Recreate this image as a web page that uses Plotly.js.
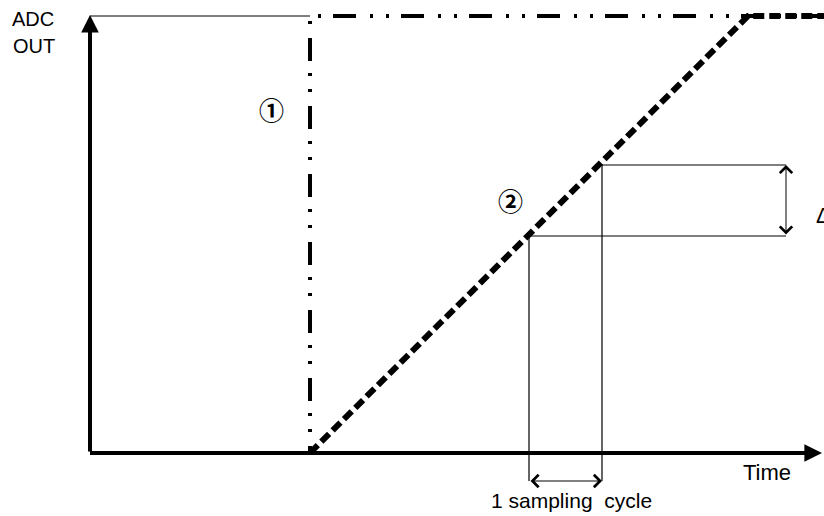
<!DOCTYPE html>
<html>
<head>
<meta charset="utf-8">
<script src="https://cdn.plot.ly/plotly-3.0.1.min.js"></script>
<style>html,body{margin:0;padding:0;background:#fff;}#chart{width:824px;height:516px;}</style>
</head>
<body>
<div id="chart"></div>
<script>
// ---- data (time units, ADC units) ----
var fullScale = 437;            // ADC full-scale level
var tEnd = 734;                 // right edge of time span
var tStep = 220;                // time of step / ramp start
var tRampEnd = 658;             // time ramp reaches full scale
// curve 1: step response
var stepT = [0, tStep, tStep, tEnd];
var stepV = [0, 0, fullScale, fullScale];
// curve 2: ramp response
var rampT = [tStep, tRampEnd, tEnd];
var rampV = [0, fullScale, fullScale];
// initial thin level line before step
var refT = [0, tStep];
var refV = [fullScale, fullScale];
// sampling instants and sampled levels
var sampleT = [439, 512];
var sampleV = [217, 288];
var deltaT = 696;               // position of the delta marker
var cycleV = -28;               // level of the sampling-cycle marker
var axisTipT = 732;
var axisTipV = 438;

// labels
var yLabel = ["ADC", "OUT"];
var xLabel = "Time";
var cycleLabel = "1 sampling  cycle";
var curveLabels = ["①", "②"];
var deltaLabel = "Δ";

var traces = [
  {x: refT, y: refV, mode: 'lines', line: {color: '#000', width: 1}, hoverinfo: 'skip'},
  {x: stepT, y: stepV, mode: 'lines', line: {color: '#000', width: 4, dash: '23px,14px,3px,13px,3px,12px'}, hoverinfo: 'skip'},
  {x: [sampleT[0], sampleT[0], deltaT], y: [cycleV, sampleV[0], sampleV[0]], mode: 'lines', line: {color: '#000', width: 1.2}, hoverinfo: 'skip'},
  {x: [sampleT[1], sampleT[1], deltaT], y: [cycleV, sampleV[1], sampleV[1]], mode: 'lines', line: {color: '#000', width: 1.2}, hoverinfo: 'skip'},
  {x: rampT, y: rampV, mode: 'lines', line: {color: '#000', width: 6, dash: '11px,5px'}, hoverinfo: 'skip'}
];

var sans = 'Liberation Sans, Arial, sans-serif';
var txtFont = {family: sans, size: 20, color: '#000'};
var annotations = [
  // axes with arrowheads
  {x: axisTipT, y: 0, ax: 0, ay: 0, xref: 'x', yref: 'y', axref: 'x', ayref: 'y', showarrow: true, arrowhead: 2, arrowsize: 0.88, arrowwidth: 4, arrowcolor: '#000', standoff: 0, text: ''},
  {x: 0, y: axisTipV, ax: 0, ay: 0, xref: 'x', yref: 'y', axref: 'x', ayref: 'y', showarrow: true, arrowhead: 2, arrowsize: 0.88, arrowwidth: 4, arrowcolor: '#000', standoff: 0, text: ''},
  // delta double arrow
  {x: deltaT, y: sampleV[1], ax: deltaT, ay: sampleV[0], xref: 'x', yref: 'y', axref: 'x', ayref: 'y', showarrow: true, arrowhead: 4, startarrowhead: 4, arrowside: 'end+start', arrowsize: 2.4, startarrowsize: 2.4, arrowwidth: 1, arrowcolor: '#000', standoff: 0, startstandoff: 0, text: ''},
  // sampling cycle double arrow
  {x: sampleT[1], y: cycleV, ax: sampleT[0], ay: cycleV, xref: 'x', yref: 'y', axref: 'x', ayref: 'y', showarrow: true, arrowhead: 4, startarrowhead: 4, arrowside: 'end+start', arrowsize: 2.4, startarrowsize: 2.4, arrowwidth: 1, arrowcolor: '#000', standoff: 0, startstandoff: 0, text: ''},
  // text labels
  {x: -57, y: 434, xref: 'x', yref: 'y', text: yLabel[0], showarrow: false, font: txtFont, xanchor: 'center', yanchor: 'middle'},
  {x: -56, y: 407, xref: 'x', yref: 'y', text: yLabel[1], showarrow: false, font: txtFont, xanchor: 'center', yanchor: 'middle'},
  {x: 677, y: -19, xref: 'x', yref: 'y', text: xLabel, showarrow: false, font: {family: sans, size: 22, color: '#000'}, xanchor: 'center', yanchor: 'middle'},
  {x: 481, y: -47, xref: 'x', yref: 'y', text: cycleLabel, showarrow: false, font: {family: sans, size: 21, color: '#000'}, xanchor: 'center', yanchor: 'middle'},
  {x: 181, y: 344, xref: 'x', yref: 'y', text: curveLabels[0], showarrow: false, font: {family: 'Noto Sans CJK JP', size: 25, color: '#000', weight: 'bold'}, xanchor: 'center', yanchor: 'middle'},
  {x: 420, y: 253, xref: 'x', yref: 'y', text: curveLabels[1], showarrow: false, font: {family: 'Noto Sans CJK JP', size: 25, color: '#000', weight: 'bold'}, xanchor: 'center', yanchor: 'middle'},
  {x: 724, y: 238, xref: 'x', yref: 'y', text: deltaLabel, showarrow: false, font: {family: sans, size: 22, color: '#000'}, xanchor: 'left', yanchor: 'middle'}
];

var layout = {
  width: 824, height: 516,
  margin: {l: 0, r: 0, t: 0, b: 0},
  paper_bgcolor: '#fff', plot_bgcolor: '#fff',
  showlegend: false,
  xaxis: {range: [-90, 734], visible: false, fixedrange: true},
  yaxis: {range: [-63, 453], visible: false, fixedrange: true},
  annotations: annotations
};

Plotly.newPlot('chart', traces, layout, {staticPlot: true, displayModeBar: false});
</script>
</body>
</html>
